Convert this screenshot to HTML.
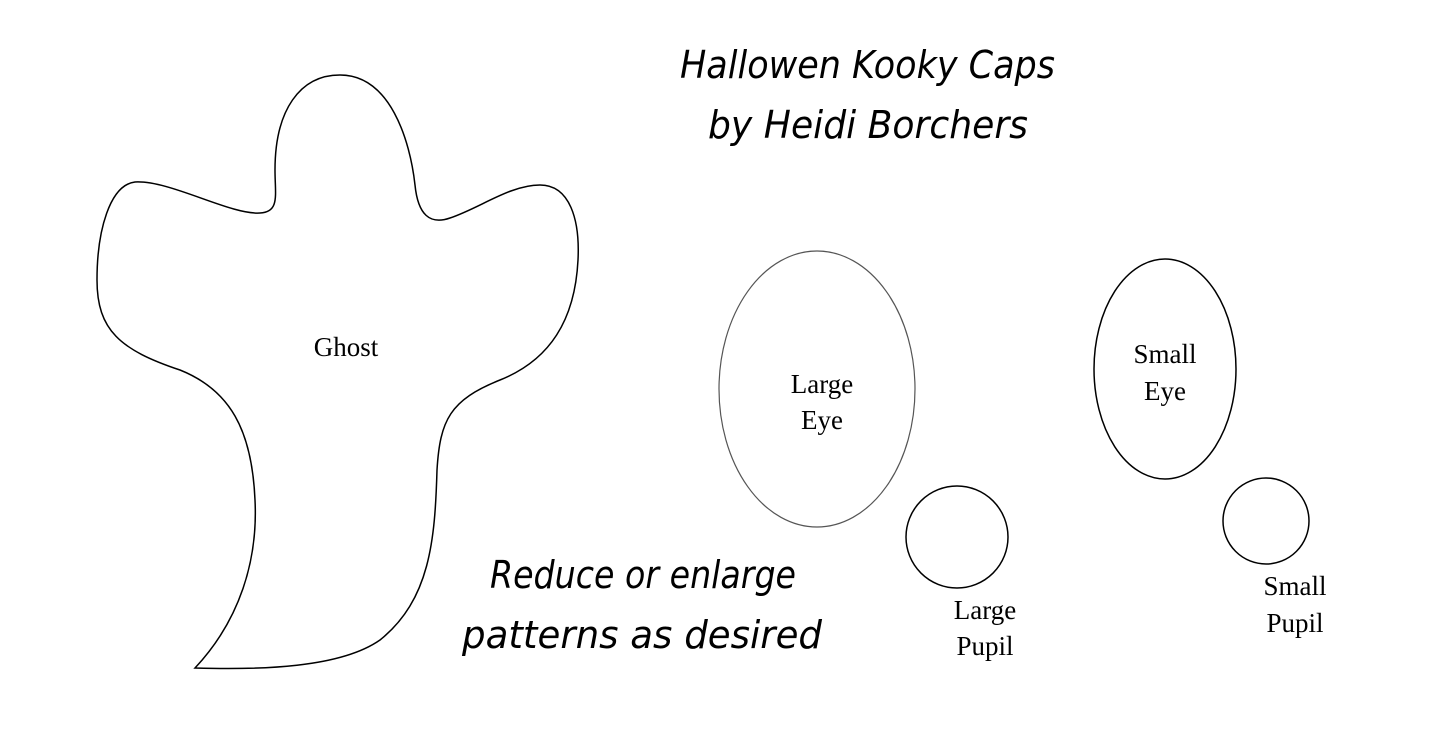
<!DOCTYPE html>
<html><head><meta charset="utf-8"><style>
html,body{margin:0;padding:0;background:#fff;}
svg{display:block;}
.h{font-family:"DejaVu Sans","Liberation Sans",sans-serif;font-style:italic;font-size:38px;fill:#000;}
.l{font-family:"Liberation Serif",serif;font-size:27px;fill:#000;}
</style></head><body>
<svg width="1429" height="754" viewBox="0 0 1429 754" xmlns="http://www.w3.org/2000/svg">
<rect width="1429" height="754" fill="#fff"/>
<path d="M 195,668 C 240,620 258,560 255,500 C 252,430 230,390 180,370 C 120,350 97,330 97,280 C 97,230 110,185 135,182 C 170,180 230,215 260,213 C 280,212 275,195 275,170 C 275,110 300,75 340,75 C 390,75 410,140 415,185 C 418,215 430,225 450,218 C 480,208 510,185 540,185 C 570,185 580,220 578,260 C 575,320 550,360 500,380 C 450,400 440,420 437,470 C 435,540 430,600 380,640 C 340,668 260,670 195,668 Z" fill="none" stroke="#000" stroke-width="1.5"/>
<ellipse cx="817" cy="389" rx="98" ry="138" fill="none" stroke="#555" stroke-width="1.2"/>
<circle cx="957" cy="537" r="51" fill="none" stroke="#000" stroke-width="1.5"/>
<ellipse cx="1165" cy="369" rx="71" ry="110" fill="none" stroke="#000" stroke-width="1.5"/>
<circle cx="1266" cy="521" r="43" fill="none" stroke="#000" stroke-width="1.5"/>
<text class="h" x="680" y="78" textLength="375" lengthAdjust="spacingAndGlyphs">Hallowen Kooky Caps</text>
<text class="h" x="708" y="138" textLength="320" lengthAdjust="spacingAndGlyphs">by Heidi Borchers</text>
<text class="h" x="490" y="588" textLength="306" lengthAdjust="spacingAndGlyphs">Reduce or enlarge</text>
<text class="h" x="462" y="648" textLength="360" lengthAdjust="spacingAndGlyphs">patterns as desired</text>
<text class="l" x="346" y="356" text-anchor="middle">Ghost</text>
<text class="l" x="822" y="393" text-anchor="middle">Large</text>
<text class="l" x="822" y="429" text-anchor="middle">Eye</text>
<text class="l" x="1165" y="363" text-anchor="middle">Small</text>
<text class="l" x="1165" y="400" text-anchor="middle">Eye</text>
<text class="l" x="985" y="619" text-anchor="middle">Large</text>
<text class="l" x="985" y="655" text-anchor="middle">Pupil</text>
<text class="l" x="1295" y="595" text-anchor="middle">Small</text>
<text class="l" x="1295" y="632" text-anchor="middle">Pupil</text>
</svg>
</body></html>
